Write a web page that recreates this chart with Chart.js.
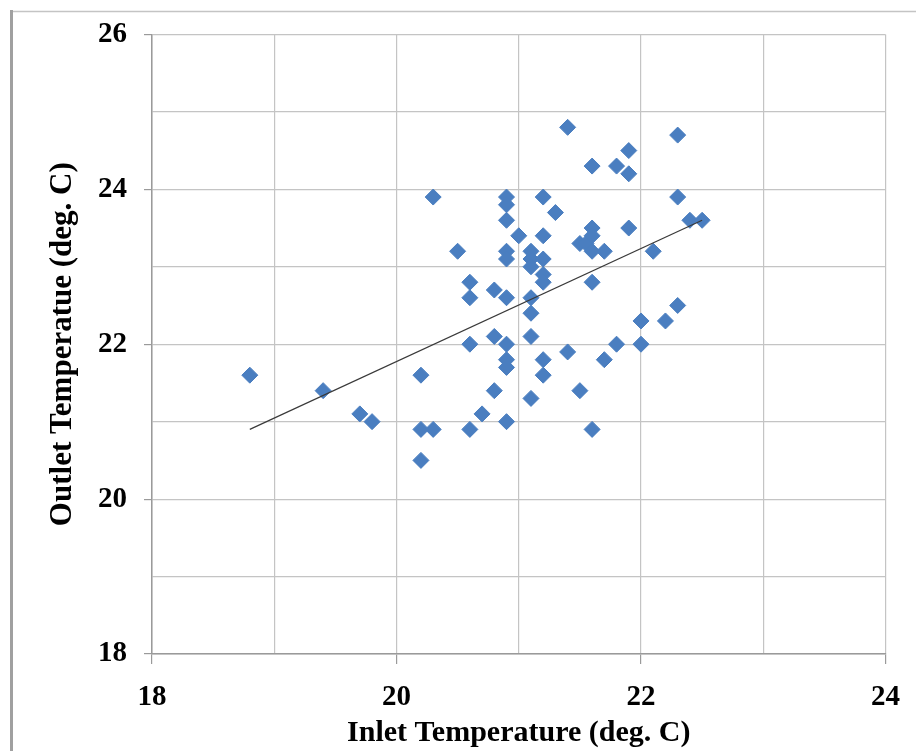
<!DOCTYPE html>
<html>
<head>
<meta charset="utf-8">
<script src="https://cdn.jsdelivr.net/npm/chart.js@4.4.1/dist/chart.umd.min.js"></script>
<style>
  html, body { margin: 0; padding: 0; background: #ffffff; }
  #wrap { width: 916px; height: 751px; }
</style>
</head>
<body>
<div id="wrap"><canvas id="c" width="916" height="751"></canvas></div>
<script>
// Inlet temperature (deg. C) of each measurement
const inletTemps = [
  18.8, 19.4, 19.7, 19.8, 20.2, 20.2, 20.3, 20.2, 20.3, 20.5,
  20.6, 20.6, 20.6, 20.6, 20.7, 20.8, 20.8, 20.8, 20.9, 20.9,
  20.9, 20.9, 20.9, 20.9, 20.9, 20.9, 20.9, 20.9, 21.0, 21.1,
  21.1, 21.1, 21.1, 21.1, 21.1, 21.1, 21.2, 21.2, 21.2, 21.2,
  21.2, 21.2, 21.2, 21.3, 21.4, 21.4, 21.5, 21.55, 21.5, 21.6,
  21.6, 21.6, 21.6, 21.6, 21.6, 21.7, 21.7, 21.8, 21.8, 21.9,
  21.9, 21.9, 22.0, 22.0, 22.1, 22.2, 22.3, 22.3, 22.3, 22.4,
  22.5
];
// Outlet temperature (deg. C) of each measurement
const outletTemps = [
  21.6, 21.4, 21.1, 21.0, 21.6, 20.9, 20.9, 20.5, 23.9, 23.2,
  22.8, 22.6, 22.0, 20.9, 21.1, 21.4, 22.7, 22.1, 21.0, 23.9,
  23.8, 23.6, 23.2, 23.1, 22.6, 22.0, 21.8, 21.7, 23.4, 23.2,
  23.1, 23.0, 22.6, 22.4, 22.1, 21.3, 23.9, 23.4, 23.1, 22.9,
  22.8, 21.8, 21.6, 23.7, 24.8, 21.9, 23.3, 23.3, 21.4, 24.3,
  23.5, 23.4, 23.2, 22.8, 20.9, 23.2, 21.8, 24.3, 22.0, 24.5,
  24.2, 23.5, 22.3, 22.0, 23.2, 22.3, 24.7, 23.9, 22.5, 23.6,
  23.6
];
// Linear trend line end points
const trendX = [18.8, 22.5];
const trendY = [20.9, 23.6];

// Axis ticks
const xTicks = [18, 20, 22, 24];
const yTicks = [18, 20, 22, 24, 26];

const xTitle = 'Inlet Temperature (deg. C)';
const yTitle = 'Outlet Temperatue (deg. C)';

const points = inletTemps.map((x, i) => ({ x: x, y: outletTemps[i] }));
const trend = trendX.map((x, i) => ({ x: x, y: trendY[i] }));

const frame = {
  id: 'frame',
  beforeDraw(chart) {
    const ctx = chart.ctx;
    ctx.save();
    ctx.fillStyle = '#ffffff';
    ctx.fillRect(0, 0, chart.width, chart.height);
    ctx.strokeStyle = '#c4c4c4';
    ctx.lineWidth = 1.5;
    ctx.beginPath();
    ctx.moveTo(10, 11.5);
    ctx.lineTo(chart.width, 11.5);
    ctx.stroke();
    ctx.strokeStyle = '#a0a0a0';
    ctx.lineWidth = 3;
    ctx.beginPath();
    ctx.moveTo(11.5, 10);
    ctx.lineTo(11.5, chart.height);
    ctx.stroke();
    ctx.restore();
  }
};

const tickFont = { family: 'Liberation Serif', size: 29, weight: 'bold' };

new Chart(document.getElementById('c'), {
  type: 'scatter',
  data: {
    datasets: [
      {
        label: 'Measurements',
        data: points,
        pointStyle: 'rectRot',
        pointRadius: 8,
        pointHoverRadius: 8,
        backgroundColor: '#4a7ec0',
        borderColor: '#4a7ec0',
        borderWidth: 1,
        order: 1
      },
      {
        label: 'Trend',
        data: trend,
        showLine: true,
        pointRadius: 0,
        borderColor: '#3a3a3a',
        borderWidth: 1.2,
        fill: false,
        order: 0
      }
    ]
  },
  options: {
    responsive: false,
    animation: false,
    devicePixelRatio: 1,
    layout: { padding: { left: 0, top: 34, right: 29, bottom: 0 } },
    plugins: {
      legend: { display: false },
      tooltip: { enabled: false }
    },
    scales: {
      x: {
        type: 'linear',
        min: 18,
        max: 24,
        afterFit(scale) { scale.height = 97; },
        ticks: {
          stepSize: 1,
          color: '#000000',
          font: tickFont,
          padding: 16,
          maxRotation: 0,
          autoSkip: false,
          callback: (v) => xTicks.includes(v) ? String(v) : ''
        },
        grid: {
          color: '#c4c4c4',
          lineWidth: 1.2,
          tickLength: 10,
          tickColor: (ctx) => (ctx.tick && xTicks.includes(ctx.tick.value)) ? '#9a9a9a' : 'rgba(0,0,0,0)'
        },
        border: { color: '#9a9a9a', width: 1.5 },
        title: {
          display: true,
          text: xTitle,
          color: '#000000',
          font: { family: 'Liberation Serif', size: 30, weight: 'bold' },
          padding: { top: 0, bottom: 0 }
        }
      },
      y: {
        type: 'linear',
        min: 18,
        max: 26,
        afterFit(scale) { scale.width = 152; },
        ticks: {
          stepSize: 1,
          color: '#000000',
          font: tickFont,
          padding: 17,
          autoSkip: false,
          callback: (v) => yTicks.includes(v) ? String(v) : ''
        },
        grid: {
          color: '#c4c4c4',
          lineWidth: 1.2,
          tickLength: 8,
          tickColor: (ctx) => (ctx.tick && yTicks.includes(ctx.tick.value)) ? '#9a9a9a' : 'rgba(0,0,0,0)'
        },
        border: { color: '#9a9a9a', width: 1.5 },
        title: {
          display: true,
          text: yTitle,
          color: '#000000',
          font: { family: 'Liberation Serif', size: 31, weight: 'bold' },
          padding: { top: 44, bottom: 0 }
        }
      }
    }
  },
  plugins: [frame]
});
</script>
</body>
</html>
